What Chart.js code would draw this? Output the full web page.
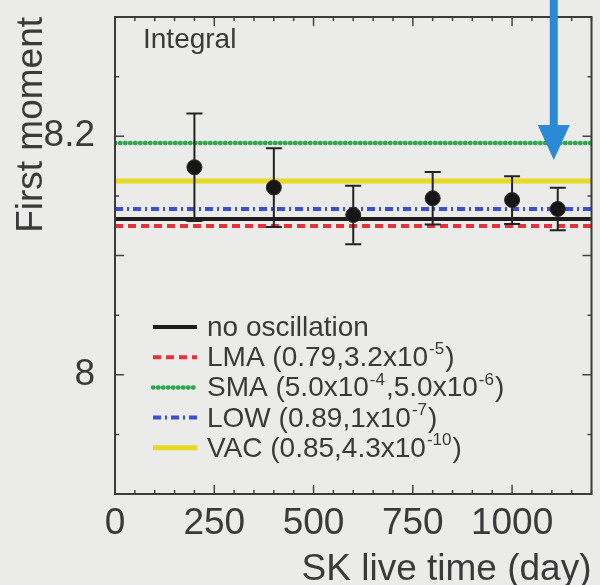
<!DOCTYPE html>
<html>
<head>
<meta charset="utf-8">
<script src="https://cdn.jsdelivr.net/npm/chart.js@4.4.1/dist/chart.umd.min.js"></script>
<style>
  html, body { margin: 0; padding: 0; background: #ebebe9; }
  #wrap { width: 600px; height: 585px; }
</style>
</head>
<body>
<div id="wrap"><canvas id="c" width="600" height="585"></canvas></div>
<script>
// Measured first moment per live-time bin
const liveDays = [200, 400, 600, 800, 1000, 1115];
const firstMoment = [8.174, 8.157, 8.134, 8.148, 8.1465, 8.139];
const momentError = [0.045, 0.033, 0.0245, 0.022, 0.020, 0.0178];

// Expected first moment for each oscillation hypothesis
const modelLabels = [
  'no oscillation',
  'LMA (0.79,3.2x10^{-5})',
  'SMA (5.0x10^{-4},5.0x10^{-6})',
  'LOW (0.89,1x10^{-7})',
  'VAC (0.85,4.3x10^{-10})'
];
const modelMoment = [8.1306, 8.1247, 8.1943, 8.139, 8.1625];

// Axes
const dayRange = [0, 1200];
const momentRange = [7.9, 8.3];
const dayTicks = [0, 250, 500, 750, 1000];
const momentTicks = [8, 8.2];

// Marker arrow
const arrowDay = 1105;
const arrowTipMoment = 8.18;

const panelLabel = 'Integral';

const modelStyles = [
  { color: '#1c1c1c', dash: [], width: 4, cap: 'butt' },
  { color: '#e4323b', dash: [8, 5], width: 4, cap: 'butt' },
  { color: '#2ea84e', dash: [0.5, 4.5], width: 4.5, cap: 'round' },
  { color: '#3a4fd2', dash: [8, 4, 2, 4], width: 4, cap: 'butt' },
  { color: '#e6da24', dash: [], width: 5, cap: 'butt' }
];

const FONT = "'Liberation Sans', Arial, Helvetica, sans-serif";
const INK = '#3a3a3a';

const pointDataset = {
  label: 'data',
  data: liveDays.map((d, i) => ({ x: d, y: firstMoment[i] })),
  showLine: false,
  pointRadius: 7.5,
  pointBackgroundColor: '#161616',
  pointBorderColor: '#2a2a2a',
  pointBorderWidth: 1
};

const modelDatasets = modelLabels.map((label, i) => ({
  label: label,
  data: [{ x: dayRange[0], y: modelMoment[i] }, { x: dayRange[1], y: modelMoment[i] }],
  showLine: true,
  pointRadius: 0,
  borderColor: modelStyles[i].color,
  borderWidth: modelStyles[i].width,
  borderDash: modelStyles[i].dash,
  borderCapStyle: modelStyles[i].cap
}));

// Page background
const backgroundPlugin = {
  id: 'background',
  beforeDraw(chart) {
    const ctx = chart.ctx;
    ctx.save();
    ctx.fillStyle = '#ebebe9';
    ctx.fillRect(0, 0, chart.width, chart.height);
    ctx.restore();
  }
};

// Symmetric error bars with caps, drawn just before the markers
const errorBarPlugin = {
  id: 'errorBars',
  beforeDatasetDraw(chart, args) {
    if (args.index !== 0) return;
    const { ctx, scales: { x, y } } = chart;
    ctx.save();
    ctx.strokeStyle = '#222';
    ctx.lineWidth = 2;
    liveDays.forEach((d, i) => {
      const px = x.getPixelForValue(d);
      const top = y.getPixelForValue(firstMoment[i] + momentError[i]);
      const bot = y.getPixelForValue(firstMoment[i] - momentError[i]);
      ctx.beginPath();
      ctx.moveTo(px, top); ctx.lineTo(px, bot);
      ctx.moveTo(px - 8, top); ctx.lineTo(px + 8, top);
      ctx.moveTo(px - 8, bot); ctx.lineTo(px + 8, bot);
      ctx.stroke();
    });
    ctx.restore();
  }
};

function drawRichText(ctx, text, x, y, size) {
  const parts = text.split(/\^\{([^}]*)\}/);
  let cx = x;
  parts.forEach((p, k) => {
    if (!p) return;
    if (k % 2 === 1) {
      ctx.font = `${Math.round(size * 0.62)}px ${FONT}`;
      ctx.fillText(p, cx + 1, y - size * 0.42);
      cx += ctx.measureText(p).width + 2;
    } else {
      ctx.font = `${size}px ${FONT}`;
      ctx.fillText(p, cx, y);
      cx += ctx.measureText(p).width;
    }
  });
}

// Frame, inward ticks, panel label, legend and arrow
const framePlugin = {
  id: 'frame',
  afterDraw(chart) {
    const { ctx, chartArea: a, scales: { x, y } } = chart;
    ctx.save();

    // inward tick marks on all four sides
    ctx.strokeStyle = '#444';
    ctx.lineWidth = 1.5;
    ctx.beginPath();
    for (let d = dayRange[0]; d <= dayRange[1] + 1e-6; d += 50) {
      const px = x.getPixelForValue(d);
      const len = d % 250 === 0 ? 9 : 4;
      ctx.moveTo(px, a.bottom); ctx.lineTo(px, a.bottom - len);
      ctx.moveTo(px, a.top); ctx.lineTo(px, a.top + len);
    }
    for (let k = 0; k <= 8; k++) {
      const m = momentRange[0] + k * 0.05;
      const py = y.getPixelForValue(m);
      const len = k % 2 === 0 ? 9 : 4;
      ctx.moveTo(a.left, py); ctx.lineTo(a.left + len, py);
      ctx.moveTo(a.right, py); ctx.lineTo(a.right - len, py);
    }
    ctx.stroke();

    // frame
    ctx.strokeStyle = '#3c3c3c';
    ctx.lineWidth = 2;
    ctx.strokeRect(a.left, a.top, a.right - a.left, a.bottom - a.top);

    // panel label
    ctx.fillStyle = INK;
    ctx.textBaseline = 'alphabetic';
    ctx.textAlign = 'left';
    ctx.font = `28px ${FONT}`;
    ctx.fillText(panelLabel, a.left + 28, a.top + 31);

    // legend
    const lx0 = a.left + 38, lx1 = a.left + 82, tx = a.left + 92;
    const ly0 = a.top + 310, dy = 30.2;
    modelDatasets.forEach((ds, i) => {
      const ly = ly0 + i * dy;
      ctx.strokeStyle = ds.borderColor;
      ctx.lineWidth = ds.borderWidth;
      ctx.setLineDash(ds.borderDash);
      ctx.lineCap = ds.borderCapStyle;
      ctx.beginPath();
      ctx.moveTo(lx0, ly); ctx.lineTo(lx1, ly);
      ctx.stroke();
      ctx.setLineDash([]);
      ctx.lineCap = 'butt';
      ctx.fillStyle = INK;
      drawRichText(ctx, ds.label, tx, ly + 9, 28);
    });

    // arrow pointing at the latest bin
    const ax = x.getPixelForValue(arrowDay);
    const tip = y.getPixelForValue(arrowTipMoment);
    ctx.fillStyle = '#2b8ad6';
    ctx.fillRect(ax - 4, 0, 8, tip - 30);
    ctx.beginPath();
    ctx.moveTo(ax - 16, tip - 35);
    ctx.lineTo(ax + 16, tip - 35);
    ctx.lineTo(ax, tip);
    ctx.closePath();
    ctx.fill();

    ctx.restore();
  }
};

new Chart(document.getElementById('c'), {
  type: 'scatter',
  data: { datasets: [pointDataset, ...modelDatasets] },
  options: {
    responsive: false,
    animation: false,
    devicePixelRatio: 1,
    layout: { padding: { top: 17, right: 4, left: 0, bottom: 0 } },
    plugins: { legend: { display: false }, tooltip: { enabled: false } },
    scales: {
      x: {
        type: 'linear',
        min: dayRange[0],
        max: dayRange[1],
        afterBuildTicks: s => { s.ticks = dayTicks.map(v => ({ value: v })); },
        afterFit: s => { s.height = 91; s.paddingLeft = 0; s.paddingRight = 0; },
        grid: { display: false, drawTicks: false },
        border: { display: false },
        ticks: {
          color: INK,
          font: { family: FONT, size: 37 },
          padding: 8,
          maxRotation: 0,
          autoSkip: false,
          callback: v => String(v)
        },
        title: {
          display: true,
          text: 'SK live time (day)',
          align: 'end',
          color: INK,
          font: { family: FONT, size: 37, lineHeight: 0.8 },
          padding: { top: 0, bottom: 0 }
        }
      },
      y: {
        type: 'linear',
        min: momentRange[0],
        max: momentRange[1],
        afterBuildTicks: s => { s.ticks = momentTicks.map(v => ({ value: v })); },
        afterFit: s => { s.width = 115; s.paddingTop = 0; s.paddingBottom = 0; },
        grid: { display: false, drawTicks: false },
        border: { display: false },
        ticks: {
          color: INK,
          font: { family: FONT, size: 37 },
          padding: 20,
          callback: v => String(Math.round(v * 10) / 10)
        },
        title: {
          display: true,
          text: 'First moment',
          align: 'end',
          color: INK,
          font: { family: FONT, size: 37 },
          padding: { top: 10, bottom: 0 }
        }
      }
    }
  },
  plugins: [backgroundPlugin, errorBarPlugin, framePlugin]
});
</script>
</body>
</html>
